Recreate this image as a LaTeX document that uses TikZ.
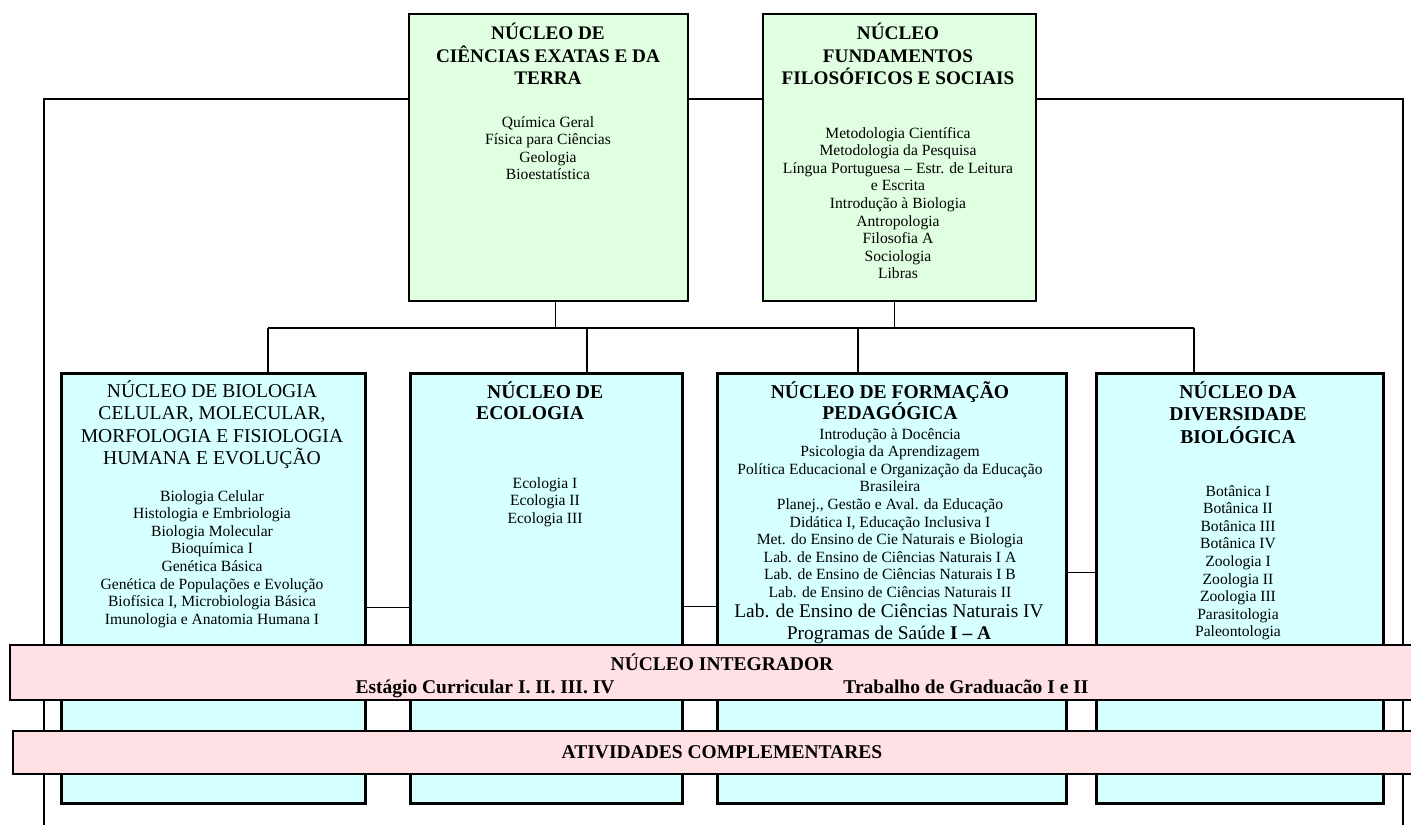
\documentclass[tikz,border=0pt]{standalone}
\usepackage{fontspec}
\setmainfont{Liberation Serif}
\usetikzlibrary{positioning}
\definecolor{nucgreen}{RGB}{224,255,224}
\definecolor{nuccyan}{RGB}{214,255,255}
\definecolor{nucpink}{RGB}{255,224,228}
\tikzset{
  topbox/.style={draw, line width=2.2pt, fill=nucgreen, anchor=north west, inner sep=0pt},
  midbox/.style={draw, line width=2.6pt, fill=nuccyan, anchor=north west, inner sep=0pt},
  barbox/.style={draw, line width=2pt, fill=nucpink, anchor=north west, inner sep=0pt},
  ttl/.style={anchor=north, align=center, inner sep=0pt, font=\fontsize{19.2}{22.5}\selectfont\bfseries},
  itm/.style={anchor=north, align=center, inner sep=0pt, font=\fontsize{15.6}{17.6}\selectfont},
  bartxt/.style={anchor=base, inner sep=0pt, font=\fontsize{19.5}{22}\selectfont\bfseries},
  frameline/.style={line width=1.7pt},
  busline/.style={line width=1.4pt},
  boldline/.style={line width=2.8pt},
  sidelink/.style={line width=1pt}
}
\begin{document}
\begin{tikzpicture}[x=1pt,y=-1pt]
\useasboundingbox (0,0) rectangle (1411,825);
\clip (0,0) rectangle (1411,825);

% frame and bus
\coordinate (lt) at (44,99);
\coordinate (rt) at (1403,99);
\coordinate (lb) at (44,825);
\coordinate (rb) at (1403,825);
\coordinate (busl) at (268,328);
\coordinate (buse) at (587,328);
\coordinate (busp) at (858,328);
\coordinate (busr) at (1194,328);
\coordinate (ya) at (0,607);
\coordinate (yb) at (0,606);
\coordinate (yc) at (0,572);

\node[topbox, minimum width=279pt, minimum height=287pt] (exatas) at (408,13) {};
\node[topbox, minimum width=273pt, minimum height=287pt] (fundam) at (762,13) {};
\node[midbox, minimum width=304pt, minimum height=430pt] (biocel) at (60,372) {};
\node[midbox, minimum width=272pt, minimum height=430pt] (ecol) at (409,372) {};
\node[midbox, minimum width=349pt, minimum height=430pt] (pedag) at (716,372) {};
\node[midbox, minimum width=287pt, minimum height=430pt] (divers) at (1095,372) {};

\draw[frameline] (lb) -- (lt) -- (lt -| exatas.west);
\draw[frameline] (lt -| exatas.east) -- (lt -| fundam.west);
\draw[frameline] (lt -| fundam.east) -- (rt) -- (rb);
\draw[busline] ([xshift=7pt]exatas.south) -- ([xshift=7pt]exatas.south |- busl);
\draw[busline] ([xshift=-5pt]fundam.south) -- ([xshift=-5pt]fundam.south |- busl);
\draw[busline] (busl) -- (busr);
\draw[boldline] (busl) -- (busl |- biocel.north);
\draw[boldline] (buse) -- (buse |- ecol.north);
\draw[busline] (busp) -- (busp |- pedag.north);
\draw[busline] (busr) -- (busr |- divers.north);
\draw[sidelink] (biocel.east |- ya) -- (ecol.west |- ya);
\draw[sidelink] (ecol.east |- yb) -- (pedag.west |- yb);
\draw[sidelink] (pedag.east |- yc) -- (divers.west |- yc);

% texts of the top boxes
\node[ttl] (exatasT) at (548,23) {NÚCLEO DE\\CIÊNCIAS EXATAS E DA\\TERRA};
\node[itm] (exatasI) at (548,116) {Química Geral\\Física para Ciências\\Geologia\\Bioestatística};
\node[ttl] (fundamT) at (898,23) {NÚCLEO\\FUNDAMENTOS\\FILOSÓFICOS E SOCIAIS};
\node[itm] (fundamI) at (898,127) {Metodologia Científica\\Metodologia da Pesquisa\\Língua Portuguesa – Estr. de Leitura\\e Escrita\\Introdução à Biologia\\Antropologia\\Filosofia A\\Sociologia\\Libras};

% texts of the middle boxes
\node[anchor=north, align=center, inner sep=0pt, font=\fontsize{19.6}{22.5}\selectfont] (biocelT) at (212,380) {NÚCLEO DE BIOLOGIA\\CELULAR, MOLECULAR,\\MORFOLOGIA E FISIOLOGIA\\HUMANA E EVOLUÇÃO};
\node[itm] (biocelI) at (212,490) {Biologia Celular\\Histologia e Embriologia\\Biologia Molecular\\Bioquímica I\\Genética Básica\\Genética de Populações e Evolução\\Biofísica I, Microbiologia Básica\\Imunologia e Anatomia Humana I};
\node[ttl, align=left, anchor=north west, font=\fontsize{19.6}{21.5}\selectfont\bfseries] (ecolT) at (476,381) {\hspace*{11pt}NÚCLEO DE\\ECOLOGIA};
\node[itm] (ecolI) at (545,477) {Ecologia I\\Ecologia II\\Ecologia III};
\node[ttl, font=\fontsize{19.6}{20.5}\selectfont\bfseries] (pedagT) at (890,381) {NÚCLEO DE FORMAÇÃO\\PEDAGÓGICA};
\node[itm] (pedagI) at (890,428) {Introdução à Docência\\Psicologia da Aprendizagem\\Política Educacional e Organização da Educação\\Brasileira\\Planej., Gestão e Aval. da Educação\\Didática I, Educação Inclusiva I\\Met. do Ensino de Cie Naturais e Biologia\\Lab. de Ensino de Ciências Naturais I A\\Lab. de Ensino de Ciências Naturais I B\\Lab. de Ensino de Ciências Naturais II};
\node[itm, font=\fontsize{19.4}{21.5}\selectfont] (pedagX) at (889,604) {Lab. de Ensino de Ciências Naturais IV\\Programas de Saúde \textbf{I – A}};
\node[ttl, font=\fontsize{19.6}{22.5}\selectfont\bfseries] (diversT) at (1238,381) {NÚCLEO DA\\DIVERSIDADE\\BIOLÓGICA};
\node[itm] (diversI) at (1238,485) {Botânica I\\Botânica II\\Botânica III\\Botânica IV\\Zoologia I\\Zoologia II\\Zoologia III\\Parasitologia\\Paleontologia};

% bars
\node[barbox, minimum width=1420pt, minimum height=55pt] (integ) at (9,644) {};
\node[barbox, minimum width=1420pt, minimum height=43pt] (ativ) at (12,730) {};
\node[bartxt] (integT) at (722,670) {NÚCLEO INTEGRADOR};
\node[bartxt] (integE) at (485,693) {Estágio Curricular I. II. III. IV};
\node[bartxt] (integG) at (966,693) {Trabalho de Graduacão I e II};
\node[bartxt] (ativT) at (722,758) {ATIVIDADES COMPLEMENTARES};
\end{tikzpicture}
\end{document}
